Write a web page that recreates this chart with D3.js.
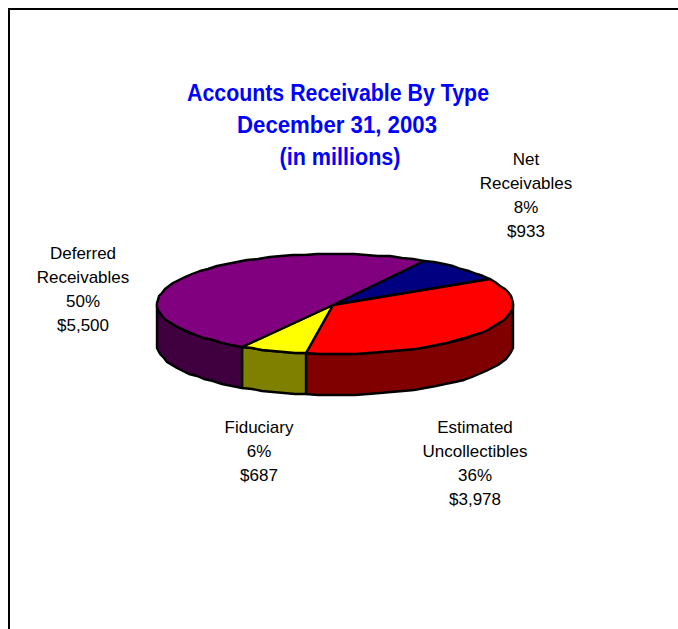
<!DOCTYPE html>
<html>
<head>
<meta charset="utf-8">
<script src="https://cdn.jsdelivr.net/npm/d3@7/dist/d3.min.js"></script>
<style>
html, body { margin: 0; padding: 0; background: #fff; overflow: hidden; }
svg { display: block; }
text { font-family: "Liberation Sans", Arial, sans-serif; }
</style>
</head>
<body>
<script>
// Accounts receivable by type, in millions of dollars
const categories = ["Net Receivables", "Estimated Uncollectibles", "Fiduciary", "Deferred Receivables"];
const values = [933, 3978, 687, 5500];
const percents = ["8%", "36%", "6%", "50%"];
const dollars = ["$933", "$3,978", "$687", "$5,500"];
const topColors = ["#000080", "#ff0000", "#ffff00", "#800080"];
const sideColors = ["#000040", "#800000", "#808000", "#400040"];
const titleLines = ["Accounts Receivable By Type", "December 31, 2003", "(in millions)"];
const labelLines = [["Net", "Receivables"], ["Estimated", "Uncollectibles"], ["Fiduciary"], ["Deferred", "Receivables"]];

const width = 678, height = 629;
const cx = 335, cy = 304, rx = 178, ry = 50, depth = 41;
const apexX = 333, apexY = 305;
const startDeg = 30;

const svg = d3.select("body").append("svg").attr("width", width).attr("height", height);

// Chart frame, running off the right and bottom of the page
svg.append("path")
  .attr("d", `M9,${height + 5}V9H${width + 5}`)
  .attr("fill", "none").attr("stroke", "#000").attr("stroke-width", 2);

const start = startDeg * Math.PI / 180;
const arcs = d3.pie().sort(null).startAngle(start).endAngle(start + 2 * Math.PI)(values);

// Rim points snap to whole pixels, which gives the outline a slightly stepped edge
const rim = (a, drop = 0) => [
  Math.round(cx + rx * Math.sin(a)),
  Math.round(cy - ry * Math.cos(a)) + drop
];
const line = d3.line();
const stepAngle = 4 * Math.PI / 180;
const sample = (a0, a1, drop = 0) => {
  const n = Math.max(1, Math.round(Math.abs(a1 - a0) / stepAngle));
  return d3.range(n + 1).map(i => rim(a0 + (a1 - a0) * i / n, drop));
};

const outline = sel => sel
  .attr("stroke", "#000").attr("stroke-width", 2.4).attr("stroke-linejoin", "round");

// Walls: only the part of each slice facing the viewer (90 to 270 degrees)
const wallLo = Math.PI / 2, wallHi = 3 * Math.PI / 2;
const wrap = 2 * Math.PI;
arcs.forEach((d, i) => {
  [0, wrap].forEach(shift => {
    const a0 = Math.max(d.startAngle, wallLo + shift);
    const a1 = Math.min(d.endAngle, wallHi + shift);
    if (a1 <= a0) return;
    const pts = sample(a0, a1).concat(sample(a1, a0, depth));
    svg.append("path").attr("d", line(pts) + "Z").attr("fill", sideColors[i]).call(outline);
  });
});

// Top faces of the slices
arcs.forEach((d, i) => {
  const pts = [[apexX, apexY]].concat(sample(d.startAngle, d.endAngle));
  svg.append("path").attr("d", line(pts) + "Z").attr("fill", topColors[i]).call(outline);
});

// Title
const title = svg.append("g").attr("fill", "#0000ff").attr("font-weight", "bold")
  .attr("font-size", 24).attr("text-anchor", "middle");
title.selectAll("text").data(titleLines).join("text")
  .attr("x", (d, i) => [338, 337, 340][i])
  .attr("y", (d, i) => 101 + i * 32)
  .attr("textLength", (d, i) => [302, 200, 121][i])
  .attr("lengthAdjust", "spacingAndGlyphs")
  .text(d => d);

// Slice labels: name lines, then percent and dollar amount
const labelX = [526, 475, 259, 83];
const labelY = [165, 433, 433, 259];
categories.forEach((name, i) => {
  const rows = labelLines[i].concat([percents[i], dollars[i]]);
  svg.append("g").attr("font-size", 17).attr("text-anchor", "middle").attr("fill", "#000")
    .selectAll("text").data(rows).join("text")
    .attr("x", labelX[i])
    .attr("y", (d, k) => labelY[i] + k * 24)
    .text(d => d);
});
</script>
</body>
</html>
